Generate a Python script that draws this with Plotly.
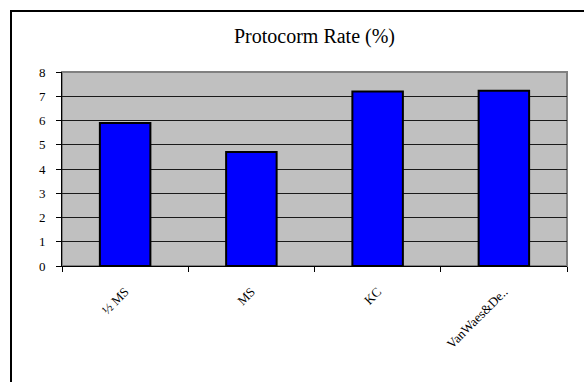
import plotly.graph_objects as go

# Protocorm formation rate by culture medium
media = ["½ MS", "MS", "KC", "VanWaes&De.."]
protocorm_rate = [5.9, 4.7, 7.2, 7.23]
y_ticks = [0, 1, 2, 3, 4, 5, 6, 7, 8]

W, H = 584, 382
L, R, T, B = 62, 17, 72, 116
pw, ph = W - L - R, H - T - B


def px_to_paper_x(x):
    return (x - L) / pw


def px_to_paper_y(y):
    return (H - B - y) / ph


serif = "Liberation Serif, Times New Roman, serif"

fig = go.Figure(
    go.Bar(
        x=media,
        y=protocorm_rate,
        marker=dict(color="#0000FF", line=dict(color="#000000", width=2)),
        width=0.4,
    )
)

fig.update_layout(
    width=W,
    height=H,
    margin=dict(l=L, r=R, t=T, b=B),
    paper_bgcolor="white",
    plot_bgcolor="#C0C0C0",
    showlegend=False,
    font=dict(family=serif, size=13, color="black"),
    title=dict(
        text="Protocorm Rate (%)",
        font=dict(family=serif, size=20, color="black"),
        x=0.5,
        xanchor="center",
        xref="paper",
        y=1 - 36 / H,
        yanchor="middle",
    ),
    shapes=[
        # plot area frame
        dict(
            type="rect", xref="paper", yref="paper",
            x0=0, x1=1, y0=0, y1=1,
            line=dict(color="#808080", width=2),
            layer="below",
        ),
        # chart area border
        dict(
            type="rect", xref="paper", yref="paper",
            x0=px_to_paper_x(11), x1=px_to_paper_x(W + 20),
            y0=px_to_paper_y(H + 20), y1=px_to_paper_y(11),
            line=dict(color="#000000", width=2),
        ),
    ],
)

fig.update_xaxes(
    type="category",
    tickangle=-45,
    tickson="boundaries",
    ticks="outside",
    ticklen=5,
    tickcolor="black",
    showline=True,
    linecolor="black",
    linewidth=1,
    showgrid=False,
    ticklabelstandoff=12,
    tickfont=dict(family=serif, size=13, color="black"),
)

fig.update_yaxes(
    range=[0, 8],
    tickvals=y_ticks,
    ticks="outside",
    ticklen=5,
    tickcolor="black",
    showline=True,
    linecolor="black",
    linewidth=1,
    showgrid=True,
    gridcolor="#1a1a1a",
    gridwidth=1,
    zeroline=False,
    ticklabelstandoff=8,
    tickfont=dict(family=serif, size=13, color="black"),
)

fig.write_html("out.html")
